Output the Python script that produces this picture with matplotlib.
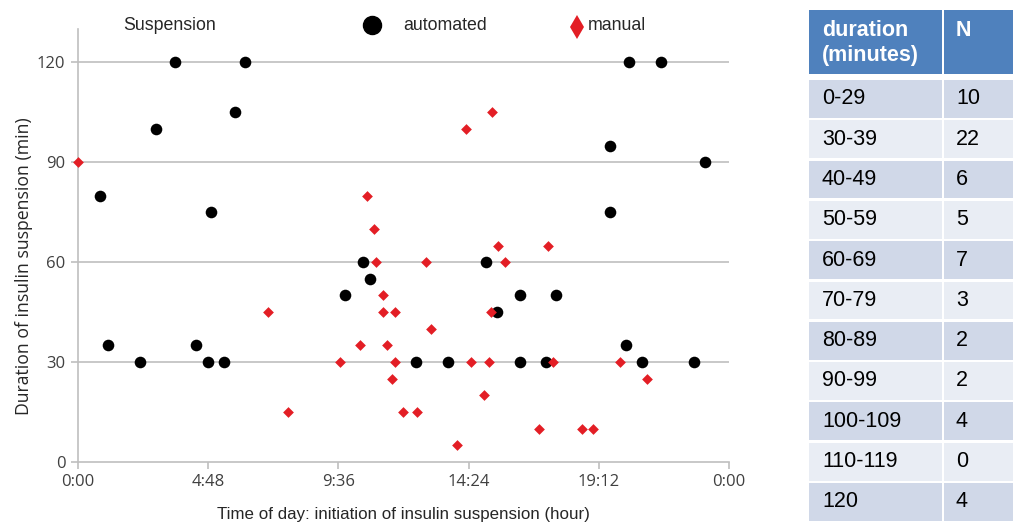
import matplotlib
matplotlib.use("Agg")
import matplotlib.pyplot as plt
from matplotlib.lines import Line2D
from matplotlib.patches import Rectangle

plt.rcParams['font.family'] = ['Liberation Sans', 'DejaVu Sans']

# ---- data (hours of day, minutes of suspension) ----
auto_hour = [0.80, 1.09, 2.28, 2.86, 3.56, 4.36, 4.81, 4.89, 5.37, 5.79, 6.17,
             9.83, 10.49, 10.78, 12.47, 13.65, 15.05, 15.44, 16.28, 16.28,
             17.26, 17.63, 19.63, 19.63, 20.21, 20.31, 20.80, 21.50, 22.70, 23.13]
auto_min = [80, 35, 30, 100, 120, 35, 30, 75, 30, 105, 120,
            50, 60, 55, 30, 30, 60, 45, 50, 30,
            30, 50, 95, 75, 35, 120, 30, 120, 30, 90]

manual_hour = [0.0, 6.99, 7.75, 9.67, 10.41, 10.66, 10.90, 11.00, 11.24, 11.24,
               11.41, 11.68, 11.68, 11.57, 11.99, 12.49, 12.82, 13.00, 13.99,
               14.32, 14.50, 14.95, 15.15, 15.24, 15.25, 15.50, 15.75, 17.00,
               17.32, 17.50, 18.57, 18.98, 19.99, 20.97]
manual_min = [90, 45, 15, 30, 35, 80, 70, 60, 50, 45,
              35, 45, 30, 25, 15, 15, 60, 40, 5,
              100, 30, 20, 30, 45, 105, 65, 60, 10,
              65, 30, 10, 10, 30, 25]

x_ticks = [0, 4.8, 9.6, 14.4, 19.2, 24]
x_tick_labels = ["0:00", "4:48", "9:36", "14:24", "19:12", "0:00"]
y_ticks = [0, 30, 60, 90, 120]

table_ranges = ["0-29", "30-39", "40-49", "50-59", "60-69", "70-79",
                "80-89", "90-99", "100-109", "110-119", "120"]
table_n = [10, 22, 6, 5, 7, 3, 2, 2, 4, 0, 4]

W, H = 1013, 529
fig = plt.figure(figsize=(W / 100, H / 100), dpi=100)
fig.patch.set_facecolor('white')

grey = '#BFBFBF'
txt = '#404040'
red = '#E31E25'

ax = fig.add_axes([78 / W, 1 - 462 / H, (729 - 78) / W, (462 - 29) / H])
ax.set_xlim(0, 24)
ax.set_ylim(0, 130)
ax.set_xticks(x_ticks)
ax.set_xticklabels(x_tick_labels)
ax.set_yticks(y_ticks)
for y in y_ticks[1:]:
    ax.axhline(y, color=grey, lw=1.2, zorder=1)
for s in ['top', 'right']:
    ax.spines[s].set_visible(False)
for s in ['left', 'bottom']:
    ax.spines[s].set_color(grey)
    ax.spines[s].set_linewidth(1.2)
ax.tick_params(axis='both', colors=grey, length=5, width=1.2, labelcolor=txt,
               labelsize=12, pad=4)
for lab in ax.get_xticklabels() + ax.get_yticklabels():
    lab.set_family(['Open Sans', 'DejaVu Sans'])

ax.scatter(auto_hour, auto_min, s=70, c='black', marker='o', zorder=3,
           linewidths=0, clip_on=False)
ax.scatter(manual_hour, manual_min, s=30, c=red, marker='D', zorder=4,
           linewidths=0, clip_on=False)

ax.set_ylabel("Duration of insulin suspension (min)", fontsize=12.7, color='#262626',
              family=['Open Sans', 'DejaVu Sans'])
ax.yaxis.set_label_coords(-0.069, 0.453)
ax.set_xlabel("Time of day: initiation of insulin suspension (hour)", fontsize=12.2,
              color='#262626', labelpad=12)

# ---- legend (drawn in figure pixels) ----
def fx(px):
    return px / W

def fy(py):
    return 1 - py / H

fig.text(fx(123), fy(26), "Suspension", fontsize=12.8, color='#262626', va='center')
fig.add_artist(Line2D([fx(372)], [fy(25)], marker='o', color='black',
                      markersize=13, linestyle='none', transform=fig.transFigure))
fig.text(fx(403), fy(26), "automated", fontsize=12.8, color='#262626', va='center')
fig.add_artist(Line2D([fx(577)], [fy(27)], marker='d', color=red,
                      markersize=12, markeredgewidth=0, linestyle='none',
                      transform=fig.transFigure))
fig.text(fx(588), fy(26), "manual", fontsize=12.8, color='#262626', va='center')

# ---- table ----
tax = fig.add_axes([0, 0, 1, 1])
tax.set_xlim(0, W)
tax.set_ylim(H, 0)
tax.axis('off')
tax.patch.set_alpha(0)

c1x, c1w = 809, 133
c2x, c2w = 944, 75
hdr = '#4F81BD'
tax.add_patch(Rectangle((c1x, 10), c1w, 64, color=hdr, lw=0))
tax.add_patch(Rectangle((c2x, 10), c2w, 64, color=hdr, lw=0))
tax.text(822, 20, "duration\n(minutes)", color='white', fontsize=15.5,
         fontweight='bold', va='top', ha='left', linespacing=1.25)
tax.text(956, 20, "N", color='white', fontsize=15.5, fontweight='bold',
         va='top', ha='left')

row_h = 40.3
for i, (rng, n) in enumerate(zip(table_ranges, table_n)):
    top = 80 + i * row_h
    col = '#D0D8E8' if i % 2 == 0 else '#E9EDF4'
    tax.add_patch(Rectangle((c1x, top), c1w, row_h - 2.5, color=col, lw=0))
    tax.add_patch(Rectangle((c2x, top), c2w, row_h - 2.5, color=col, lw=0))
    cy = top + (row_h - 2.5) / 2
    tax.text(822, cy, rng, fontsize=15.5, va='center', ha='left', color='black')
    tax.text(956, cy, str(n), fontsize=15.5, va='center', ha='left', color='black')

fig.savefig("out.png", dpi=100, facecolor='white')
